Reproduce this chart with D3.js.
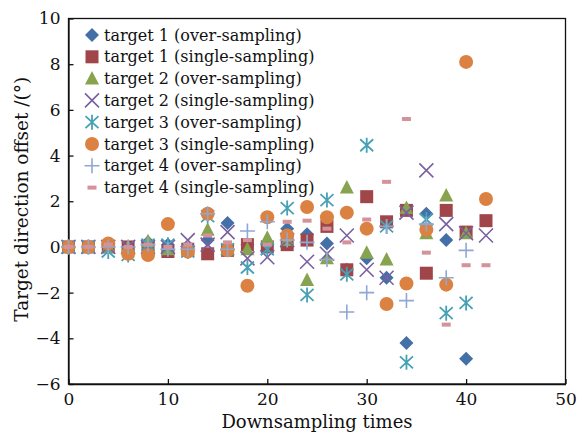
<!DOCTYPE html>
<html>
<head>
<meta charset="utf-8">
<script src="https://cdn.jsdelivr.net/npm/d3@7"></script>
<style>
  body { margin: 0; background: #fff; }
  svg { display: block; }
  text { font-family: "DejaVu Serif", serif; fill: #111; }
</style>
</head>
<body>
<svg id="chart"></svg>
<script>
const xs = [0, 2, 4, 6, 8, 10, 12, 14, 16, 18, 20, 22, 24, 26, 28, 30, 32, 34, 36, 38, 40, 42]

// target 1..4, over / single sampling (null = no point)
const t1Over   = [0, 0, 0.1, 0, 0.2, 0.1, -0.1, 0.3, 1.05, 0.1, 0.1, 0.8, 0.55, 0.15, -1.0, -0.5, -1.35, -4.2, 1.45, 0.3, -4.9, null]
const t1Single = [0, 0, 0, 0, 0, -0.2, -0.1, -0.3, -0.15, 0.1, 0, 0.1, 0.3, 0.9, -1.0, 2.2, 1.1, 1.6, -1.15, 1.6, 0.65, 1.15]
const t2Over   = [0, 0, 0, 0, 0.25, -0.1, -0.1, 0.75, -0.1, -0.1, 0.4, 0.3, -1.45, -0.5, 2.6, -0.25, -0.55, 1.7, 0.6, 2.25, 0.6, null]
const t2Single = [0, 0, 0, 0, 0, 0, 0.3, 0.1, 0.65, -0.5, -0.45, 0.3, -0.65, -0.3, 0.5, -1.0, -1.35, 1.5, 3.35, 1.0, 0.6, 0.5]
const t3Over   = [0, 0, -0.2, -0.35, 0.1, 0.1, -0.2, 1.35, -0.1, -0.9, -0.1, 1.7, -2.1, 2.05, -1.2, 4.45, 0.9, -5.05, 1.2, -2.9, -2.45, null]
const t3Single = [0, 0, 0.15, -0.3, -0.35, 1.0, -0.2, 1.45, -0.15, -1.7, 1.3, 0.5, 1.75, 1.3, 1.5, 0.8, -2.5, -1.6, 0.75, -1.65, 8.1, 2.1]
const t4Over   = [0, 0, 0, 0, 0.1, -0.1, -0.1, 1.45, -0.1, 0.7, 1.1, 0.3, 0.2, -0.55, -2.85, -2.0, 0.9, -2.35, 1.0, -1.35, -0.15, null]
const t4Single = [0, 0, 0.1, 0, 0.1, 0, 0.1, 0.5, 0.2, 0.3, 0.1, 1.1, 1.15, 0.8, 0.2, 1.2, 2.85, 5.6, -0.25, -3.4, -0.8, -0.8]

const labels = [
  'target 1 (over-sampling)', 'target 1 (single-sampling)',
  'target 2 (over-sampling)', 'target 2 (single-sampling)',
  'target 3 (over-sampling)', 'target 3 (single-sampling)',
  'target 4 (over-sampling)', 'target 4 (single-sampling)'
]
const xTicks = [0, 10, 20, 30, 40, 50]
const yTicks = [-6, -4, -2, 0, 2, 4, 6, 8, 10]

const series = [
  {values: t1Over, shape: 'diamond', color: '#4470a8'},
  {values: t1Single, shape: 'square', color: '#a0464a'},
  {values: t2Over, shape: 'triangle', color: '#87a34f'},
  {values: t2Single, shape: 'x', color: '#7a60a0'},
  {values: t3Over, shape: 'star', color: '#46a1b4'},
  {values: t3Single, shape: 'circle', color: '#db8242'},
  {values: t4Over, shape: 'plus', color: '#8fa8d3'},
  {values: t4Single, shape: 'dash', color: '#d3939a'}
]

const width = 578, height = 432
const margin = {top: 18.5, right: 12.5, bottom: 48, left: 68.5}

const svg = d3.select('#chart').attr('width', width).attr('height', height)

const x = d3.scaleLinear().domain([0, 50]).range([margin.left, width - margin.right])
const y = d3.scaleLinear().domain([-6, 10]).range([height - margin.bottom, margin.top])

// draw one marker centred at 0,0
function marker(g, shape, color) {
    if (shape === 'diamond') {
        g.append('path').attr('d', 'M0,-7L7,0L0,7L-7,0Z').attr('fill', color)
    } else if (shape === 'square') {
        g.append('rect').attr('x', -6.5).attr('y', -6.5).attr('width', 13).attr('height', 13).attr('fill', color)
    } else if (shape === 'triangle') {
        g.append('path').attr('d', 'M0,-7.5L7,6L-7,6Z').attr('fill', color)
    } else if (shape === 'circle') {
        g.append('circle').attr('r', 7).attr('fill', color)
    } else if (shape === 'x') {
        g.append('path').attr('d', 'M-7,-7L7,7M-7,7L7,-7').attr('stroke', color).attr('stroke-width', 1.6)
    } else if (shape === 'star') {
        g.append('path').attr('d', 'M0,-7.5L0,7.5M-6.5,-6L6.5,6M-6.5,6L6.5,-6').attr('stroke', color).attr('stroke-width', 1.8)
    } else if (shape === 'plus') {
        g.append('path').attr('d', 'M0,-7.5L0,7.5M-7.5,0L7.5,0').attr('stroke', color).attr('stroke-width', 1.6)
    } else if (shape === 'dash') {
        g.append('rect').attr('x', -4.5).attr('y', -2).attr('width', 9).attr('height', 4).attr('fill', color)
    }
}

// axes, ticks inward
svg.append('g')
    .attr('transform', `translate(0,${y(-6)})`)
    .call(d3.axisBottom(x).tickValues(xTicks).tickSizeInner(-5).tickSizeOuter(0).tickPadding(9))
svg.append('g')
    .attr('transform', `translate(${x(0)},0)`)
    .call(d3.axisLeft(y).tickValues(yTicks).tickSizeInner(-5).tickSizeOuter(0).tickPadding(8)
        .tickFormat(d => d < 0 ? '\u2212' + Math.abs(d) : d))
svg.selectAll('.tick text').style('font-family', '"DejaVu Serif", serif').style('font-size', '17px').attr('fill', '#111')
svg.selectAll('.domain, .tick line').attr('stroke', '#111').attr('stroke-width', 1.3)

// frame
svg.append('rect')
    .attr('x', x(0)).attr('y', y(10))
    .attr('width', x(50) - x(0)).attr('height', y(-6) - y(10))
    .attr('fill', 'none').attr('stroke', '#111').attr('stroke-width', 1.3)

// points
series.forEach(s => {
    const g = svg.append('g')
    s.values.forEach((v, i) => {
        if (v === null) return
        const m = g.append('g').attr('transform', `translate(${x(xs[i])},${y(v)})`)
        marker(m, s.shape, s.color)
    })
})

// legend
const legend = svg.append('g')
labels.forEach((lab, i) => {
    const row = legend.append('g').attr('transform', `translate(92,${35 + i * 21.8})`)
    marker(row, series[i].shape, series[i].color)
    row.append('text').attr('x', 12).attr('dy', '0.35em').style('font-size', '16px').text(lab)
})

// axis titles
svg.append('text')
    .attr('x', (x(0) + x(50)) / 2).attr('y', 428)
    .attr('text-anchor', 'middle').style('font-size', '18px')
    .text('Downsampling times')
svg.append('text')
    .attr('transform', `translate(22,${(y(-6) + y(10)) / 2 - 2}) rotate(-90)`)
    .attr('text-anchor', 'middle').attr('dy', '0.35em').style('font-size', '18.5px')
    .text('Target direction offset /(°)')
</script>
</body>
</html>
